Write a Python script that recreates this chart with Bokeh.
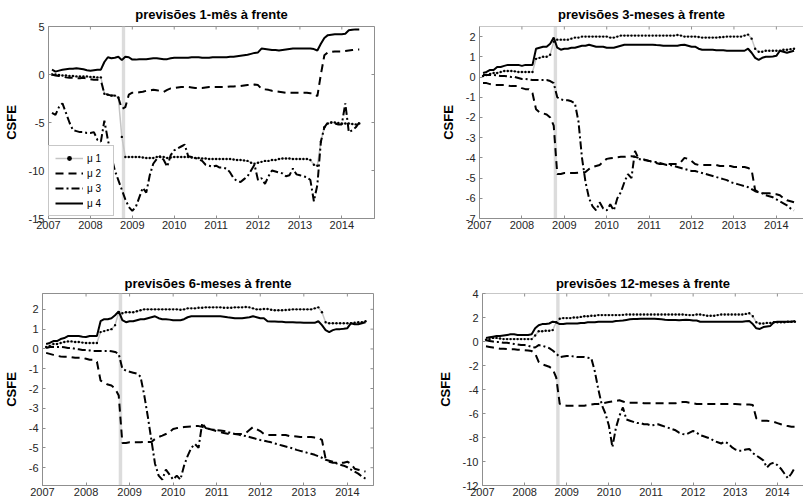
import math
from bokeh.plotting import figure
from bokeh.layouts import column, row
from bokeh.models import LinearAxis, FixedTicker, BoxAnnotation, Legend, LegendItem, Range1d, Span
from bokeh.embed import file_html
from bokeh.resources import INLINE

# ---------------- data ----------------
months = [2007 + m / 12 for m in range(1, 90)]  # Feb 2007 .. Jun 2014 (monthly)
x_ticks = [2007, 2008, 2009, 2010, 2011, 2012, 2013, 2014]
x_tick_labels = ["2007", "2008", "2009", "2010", "2011", "2012", "2013", "2014"]
crisis_start = 2008.75
crisis_end = 2008.83
series_labels = ["\u03bc 1", "\u03bc 2", "\u03bc 3", "\u03bc 4"]

# 1-month ahead
mu1_h1 = ([0.0, 0.0, -0.05, -0.1, -0.1, -0.15, -0.15, -0.2, -0.2, -0.2, -0.2, -0.25]
          + [-0.25, -0.3, -0.3, -2.0, -2.1, -2.2, -2.2, -2.4, -6.5, -8.6, -8.6, -8.6]
          + [-8.6, -8.6, -8.65, -8.7, -8.7, -8.7, -8.6, -8.6, -8.6, -8.7, -8.65, -8.6]
          + [-8.6, -8.6, -8.6, -8.6, -8.65, -8.7, -8.7, -8.75, -8.75, -8.8, -8.8, -8.8]
          + [-8.8, -8.8, -8.8, -8.8, -8.85, -8.9, -8.9, -8.95, -9.0, -9.2, -9.3, -9.2]
          + [-9.1, -9.0, -9.0, -8.9, -8.9, -8.8, -8.75, -8.75, -8.75, -8.8, -8.8, -8.8]
          + [-8.8, -8.8, -8.9, -9.4, -9.5, -7.0, -5.5, -5.1, -5.0, -5.0, -5.05, -5.1]
          + [-5.1, -5.1, -5.15, -5.2, -5.1])
mu2_h1 = ([0.0, -0.1, -0.15, -0.2, -0.3, -0.35, -0.35, -0.4, -0.4, -0.35, -0.4, -0.5]
          + [-0.55, -0.55, -0.6, -2.0, -2.1, -2.2, -2.2, -2.4, -3.6, -3.4, -2.1, -1.9]
          + [-1.9, -1.85, -1.8, -1.7, -1.65, -1.6, -1.65, -1.7, -1.8, -1.6, -1.45, -1.4]
          + [-1.35, -1.3, -1.3, -1.3, -1.35, -1.4, -1.4, -1.4, -1.35, -1.3, -1.3, -1.3]
          + [-1.3, -1.3, -1.3, -1.25, -1.25, -1.2, -1.2, -1.15, -1.1, -1.1, -1.05, -1.1]
          + [-1.5, -1.55, -1.6, -1.7, -1.75, -1.8, -1.85, -1.9, -1.9, -1.9, -1.9, -1.9]
          + [-1.9, -1.9, -1.95, -2.0, -2.25, 0.0, 2.0, 2.3, 2.35, 2.4, 2.4, 2.4]
          + [2.45, 2.5, 2.55, 2.6, 2.6])
mu3_h1 = ([-4.0, -4.2, -3.4, -3.0, -4.0, -5.0, -5.8, -5.9, -6.0, -6.0, -6.1, -6.1]
          + [-6.0, -6.8, -7.0, -4.8, -6.8, -8.5, -10.0, -11.0, -12.0, -13.0, -13.8, -14.2]
          + [-13.8, -12.8, -11.8, -12.3, -10.5, -9.3, -8.8, -8.5, -8.9, -9.6, -8.4, -7.9]
          + [-7.7, -7.5, -7.3, -8.5, -8.6, -8.7, -8.8, -9.0, -9.4, -9.5, -9.6, -9.5]
          + [-9.7, -9.7, -9.8, -10.2, -10.8, -11.1, -11.2, -10.9, -10.6, -10.0, -9.4, -11.0]
          + [-10.8, -11.4, -10.6, -10.0, -10.1, -10.2, -10.3, -10.6, -10.5, -9.8, -10.4, -10.5]
          + [-10.6, -10.7, -11.0, -13.2, -11.5, -7.0, -5.5, -5.0, -5.0, -5.1, -5.2, -5.2]
          + [-3.0, -6.0, -5.8, -5.5, -5.0])
mu4_h1 = ([0.5, 0.3, 0.4, 0.5, 0.55, 0.6, 0.6, 0.65, 0.6, 0.55, 0.45, 0.4]
          + [0.45, 0.5, 0.5, 1.3, 1.8, 1.7, 1.75, 1.85, 1.5, 1.85, 1.8, 1.55]
          + [1.55, 1.6, 1.6, 1.6, 1.65, 1.7, 1.7, 1.65, 1.6, 1.6, 1.7, 1.75]
          + [1.75, 1.75, 1.75, 1.75, 1.8, 1.8, 1.8, 1.75, 1.75, 1.75, 1.8, 1.8]
          + [1.8, 1.8, 1.8, 1.85, 1.85, 1.9, 1.95, 2.0, 2.05, 2.15, 2.25, 2.3]
          + [2.7, 2.65, 2.6, 2.55, 2.55, 2.5, 2.55, 2.6, 2.65, 2.7, 2.7, 2.7]
          + [2.7, 2.7, 2.7, 2.65, 2.5, 3.2, 3.8, 4.1, 4.15, 4.2, 4.2, 4.2]
          + [4.25, 4.6, 4.65, 4.7, 4.7])

# 3-months ahead
mu1_h3 = ([0.05, 0.1, 0.15, 0.2, 0.2, 0.25, 0.3, 0.3, 0.3, 0.28, 0.25, 0.25]
          + [0.25, 0.25, 0.25, 0.9, 0.95, 1.0, 1.0, 1.1, 1.75, 1.85, 1.85, 1.85]
          + [1.85, 1.9, 1.95, 1.95, 2.0, 2.0, 2.0, 2.0, 2.0, 2.0, 2.0, 2.0]
          + [1.95, 1.95, 2.0, 2.05, 2.05, 2.05, 2.05, 2.05, 2.05, 2.05, 2.05, 2.05]
          + [2.05, 2.05, 2.05, 2.05, 2.05, 2.05, 2.05, 2.08, 2.05, 2.0, 2.0, 2.0]
          + [2.0, 1.98, 1.95, 1.95, 1.95, 1.95, 1.95, 1.97, 1.98, 2.0, 2.0, 2.0]
          + [2.0, 2.0, 2.05, 2.1, 1.9, 1.4, 1.25, 1.25, 1.3, 1.3, 1.3, 1.3]
          + [1.3, 1.35, 1.35, 1.38, 1.4])
mu2_h3 = ([-0.3, -0.3, -0.35, -0.4, -0.4, -0.4, -0.4, -0.42, -0.45, -0.45, -0.45, -0.55]
          + [-0.6, -0.6, -0.8, -1.6, -1.75, -1.8, -1.85, -2.0, -2.4, -4.8, -4.8, -4.75]
          + [-4.75, -4.75, -4.75, -4.73, -4.72, -4.7, -4.55, -4.45, -4.4, -4.35, -4.2, -4.05]
          + [-4.02, -4.0, -3.97, -3.95, -3.95, -3.93, -3.92, -3.95, -4.0, -4.05, -4.1, -4.15]
          + [-4.2, -4.25, -4.3, -4.3, -4.3, -4.3, -4.3, -4.3, -4.2, -4.0, -4.05, -4.15]
          + [-4.3, -4.35, -4.35, -4.35, -4.35, -4.35, -4.35, -4.4, -4.4, -4.4, -4.4, -4.45]
          + [-4.45, -4.45, -4.45, -4.5, -4.6, -5.6, -5.7, -5.75, -5.75, -5.75, -5.8, -5.8]
          + [-5.85, -6.0, -6.1, -6.15, -6.2])
mu3_h3 = ([0.1, 0.1, 0.1, 0.1, 0.08, 0.05, 0.05, 0.03, 0.0, 0.0, -0.05, -0.1]
          + [-0.1, -0.12, -0.15, -0.15, -0.15, -0.15, -0.15, -0.2, -0.3, -1.0, -1.1, -1.15]
          + [-1.15, -1.2, -1.3, -2.2, -4.0, -5.2, -6.0, -6.4, -6.6, -6.2, -6.5, -6.6]
          + [-6.3, -6.6, -6.0, -5.7, -5.2, -4.8, -5.0, -3.65, -4.05, -4.1, -4.12, -4.15]
          + [-4.2, -4.2, -4.25, -4.3, -4.35, -4.35, -4.4, -4.45, -4.5, -4.55, -4.6, -4.65]
          + [-4.65, -4.7, -4.75, -4.8, -4.85, -4.9, -4.95, -5.0, -5.05, -5.1, -5.2, -5.25]
          + [-5.3, -5.35, -5.4, -5.45, -5.55, -5.65, -5.7, -5.75, -5.85, -5.9, -5.95, -6.05]
          + [-6.15, -6.25, -6.35, -6.5, -6.6])
mu4_h3 = ([0.2, 0.25, 0.35, 0.35, 0.5, 0.5, 0.55, 0.6, 0.6, 0.6, 0.6, 0.55]
          + [0.6, 0.6, 0.6, 1.4, 1.45, 1.5, 1.5, 1.65, 1.95, 1.45, 1.35, 1.4]
          + [1.4, 1.45, 1.45, 1.5, 1.55, 1.55, 1.6, 1.55, 1.5, 1.5, 1.5, 1.45]
          + [1.45, 1.45, 1.5, 1.55, 1.6, 1.6, 1.6, 1.6, 1.6, 1.6, 1.6, 1.6]
          + [1.6, 1.58, 1.57, 1.55, 1.55, 1.55, 1.55, 1.55, 1.58, 1.6, 1.55, 1.5]
          + [1.5, 1.4, 1.35, 1.35, 1.35, 1.35, 1.33, 1.33, 1.32, 1.3, 1.3, 1.3]
          + [1.3, 1.3, 1.3, 1.4, 1.2, 0.95, 0.85, 0.95, 1.0, 1.0, 1.02, 1.05]
          + [1.3, 1.25, 1.2, 1.25, 1.3])

# 6-months ahead
mu1_h6 = ([0.1, 0.15, 0.25, 0.25, 0.3, 0.35, 0.38, 0.38, 0.35, 0.35, 0.32, 0.3]
          + [0.3, 0.3, 0.3, 0.85, 0.9, 0.95, 1.0, 1.2, 1.85, 1.8, 1.85, 1.85]
          + [1.85, 1.9, 1.95, 2.0, 2.0, 2.0, 2.0, 2.0, 2.0, 2.0, 2.0, 2.0]
          + [2.0, 1.98, 2.0, 2.05, 2.05, 2.05, 2.08, 2.08, 2.1, 2.1, 2.1, 2.1]
          + [2.1, 2.08, 2.08, 2.08, 2.1, 2.1, 2.1, 2.12, 2.1, 2.05, 2.0, 2.0]
          + [2.02, 2.02, 1.98, 1.95, 1.95, 1.95, 1.97, 1.98, 2.0, 2.0, 2.0, 2.0]
          + [2.0, 2.0, 2.05, 2.1, 1.85, 1.35, 1.3, 1.3, 1.3, 1.3, 1.3, 1.3]
          + [1.3, 1.32, 1.35, 1.35, 1.4])
mu2_h6 = ([-0.2, -0.25, -0.3, -0.35, -0.38, -0.4, -0.4, -0.42, -0.45, -0.45, -0.45, -0.5]
          + [-0.55, -0.55, -0.65, -1.6, -1.7, -1.8, -1.85, -2.0, -2.35, -4.75, -4.75, -4.72]
          + [-4.72, -4.72, -4.72, -4.7, -4.7, -4.7, -4.55, -4.45, -4.38, -4.3, -4.2, -4.05]
          + [-4.0, -3.97, -3.95, -3.93, -3.92, -3.9, -3.9, -3.93, -4.0, -4.05, -4.1, -4.15]
          + [-4.2, -4.25, -4.28, -4.3, -4.3, -4.3, -4.3, -4.25, -4.1, -3.95, -4.05, -4.15]
          + [-4.3, -4.35, -4.35, -4.35, -4.35, -4.35, -4.35, -4.4, -4.4, -4.42, -4.45, -4.45]
          + [-4.45, -4.45, -4.48, -4.5, -4.6, -5.55, -5.7, -5.75, -5.75, -5.75, -5.75, -5.7]
          + [-5.8, -6.05, -6.1, -6.15, -6.2])
mu3_h6 = ([0.05, 0.1, 0.1, 0.1, 0.1, 0.08, 0.05, 0.05, 0.0, -0.02, -0.05, -0.05]
          + [-0.08, -0.1, -0.1, -0.1, -0.1, -0.1, -0.12, -0.15, -0.25, -1.0, -1.1, -1.15]
          + [-1.2, -1.25, -1.4, -2.3, -3.4, -4.6, -5.8, -6.4, -6.6, -6.1, -6.35, -6.6]
          + [-6.4, -6.6, -5.9, -5.4, -5.0, -4.8, -5.0, -3.75, -4.0, -4.05, -4.08, -4.1]
          + [-4.12, -4.15, -4.2, -4.25, -4.3, -4.33, -4.37, -4.4, -4.45, -4.5, -4.55, -4.6]
          + [-4.63, -4.68, -4.72, -4.78, -4.83, -4.88, -4.93, -4.98, -5.03, -5.1, -5.15, -5.2]
          + [-5.25, -5.3, -5.35, -5.42, -5.5, -5.6, -5.65, -5.7, -5.78, -5.85, -5.9, -5.98]
          + [-6.1, -6.2, -6.3, -6.45, -6.55])
mu4_h6 = ([0.25, 0.3, 0.4, 0.4, 0.5, 0.55, 0.65, 0.65, 0.65, 0.65, 0.62, 0.6]
          + [0.65, 0.65, 0.65, 1.4, 1.5, 1.5, 1.55, 1.7, 1.9, 1.45, 1.35, 1.4]
          + [1.4, 1.45, 1.5, 1.5, 1.55, 1.6, 1.65, 1.55, 1.5, 1.5, 1.48, 1.45]
          + [1.45, 1.45, 1.5, 1.6, 1.65, 1.65, 1.65, 1.65, 1.65, 1.65, 1.65, 1.65]
          + [1.65, 1.63, 1.6, 1.58, 1.55, 1.55, 1.55, 1.58, 1.6, 1.65, 1.6, 1.55]
          + [1.55, 1.4, 1.38, 1.38, 1.37, 1.37, 1.35, 1.35, 1.35, 1.33, 1.33, 1.32]
          + [1.32, 1.32, 1.32, 1.4, 1.2, 0.95, 0.85, 0.95, 1.0, 1.0, 1.02, 1.05]
          + [1.3, 1.25, 1.25, 1.3, 1.35])

# 12-months ahead
mu1_h12 = ([0.15, 0.2, 0.3, 0.3, 0.25, 0.2, 0.2, 0.2, 0.2, 0.2, 0.2, 0.2]
           + [0.2, 0.2, 0.5, 0.85, 0.85, 0.9, 0.9, 0.95, 1.6, 1.9, 1.95, 1.95]
           + [1.95, 2.0, 2.0, 2.05, 2.1, 2.1, 2.15, 2.15, 2.2, 2.2, 2.2, 2.2]
           + [2.2, 2.2, 2.2, 2.22, 2.25, 2.25, 2.25, 2.25, 2.25, 2.25, 2.25, 2.25]
           + [2.25, 2.25, 2.25, 2.25, 2.25, 2.25, 2.25, 2.25, 2.25, 2.22, 2.2, 2.2]
           + [2.25, 2.25, 2.2, 2.15, 2.15, 2.15, 2.2, 2.25, 2.25, 2.25, 2.25, 2.25]
           + [2.25, 2.25, 2.3, 2.35, 2.1, 1.6, 1.5, 1.5, 1.55, 1.55, 1.6, 1.6]
           + [1.6, 1.6, 1.65, 1.65, 1.65])
mu2_h12 = ([-0.4, -0.45, -0.5, -0.55, -0.6, -0.6, -0.62, -0.65, -0.65, -0.68, -0.7, -0.72]
           + [-0.75, -0.8, -1.0, -1.7, -1.9, -2.0, -2.1, -2.3, -3.0, -5.2, -5.3, -5.35]
           + [-5.35, -5.35, -5.35, -5.35, -5.35, -5.3, -5.25, -5.2, -5.2, -5.15, -5.1, -5.05]
           + [-5.0, -4.95, -4.9, -5.0, -5.1, -5.1, -5.1, -5.1, -5.1, -5.15, -5.15, -5.15]
           + [-5.15, -5.15, -5.15, -5.15, -5.15, -5.15, -5.15, -5.1, -5.05, -5.05, -5.1, -5.15]
           + [-5.2, -5.2, -5.2, -5.2, -5.2, -5.2, -5.2, -5.2, -5.2, -5.2, -5.2, -5.2]
           + [-5.22, -5.25, -5.25, -5.25, -5.3, -6.4, -6.6, -6.6, -6.6, -6.65, -6.7, -6.8]
           + [-6.9, -7.0, -7.05, -7.1, -7.1])
mu3_h12 = ([0.1, 0.05, 0.0, -0.05, -0.05, -0.1, -0.1, -0.15, -0.2, -0.25, -0.3, -0.3]
           + [-0.35, -0.45, -0.5, -0.3, -0.35, -0.45, -0.55, -0.75, -1.0, -1.3, -1.25, -1.2]
           + [-1.2, -1.25, -1.3, -1.3, -1.3, -1.35, -1.4, -2.5, -4.0, -5.3, -6.0, -7.0]
           + [-8.8, -7.2, -6.2, -5.5, -6.5, -6.6, -6.7, -6.8, -6.8, -6.9, -6.9, -7.0]
           + [-6.95, -6.9, -7.0, -7.1, -7.2, -7.3, -7.4, -7.6, -7.7, -7.75, -7.6, -7.45]
           + [-7.6, -7.8, -7.9, -8.0, -8.1, -8.3, -8.4, -8.5, -8.35, -8.5, -8.8, -9.0]
           + [-9.1, -9.1, -9.0, -8.95, -9.3, -9.5, -9.7, -9.9, -10.5, -10.2, -10.1, -10.3]
           + [-10.6, -11.0, -11.4, -11.0, -10.5])
mu4_h12 = ([0.3, 0.35, 0.4, 0.45, 0.45, 0.5, 0.55, 0.6, 0.6, 0.55, 0.55, 0.55]
           + [0.55, 0.6, 1.1, 1.35, 1.45, 1.45, 1.5, 1.65, 1.6, 1.45, 1.45, 1.5]
           + [1.5, 1.5, 1.5, 1.55, 1.55, 1.6, 1.6, 1.6, 1.65, 1.65, 1.65, 1.65]
           + [1.65, 1.7, 1.72, 1.75, 1.8, 1.85, 1.88, 1.88, 1.9, 1.9, 1.9, 1.9]
           + [1.9, 1.88, 1.85, 1.82, 1.8, 1.8, 1.8, 1.78, 1.8, 1.82, 1.8, 1.75]
           + [1.75, 1.65, 1.65, 1.65, 1.65, 1.65, 1.65, 1.65, 1.65, 1.65, 1.65, 1.65]
           + [1.65, 1.65, 1.68, 1.7, 1.45, 1.1, 1.05, 1.2, 1.25, 1.3, 1.6, 1.65]
           + [1.65, 1.65, 1.65, 1.65, 1.7])

yticks_h1 = [-15, -10, -5, 0, 5]
yticks_h3 = [-7, -6, -5, -4, -3, -2, -1, 0, 1, 2]
yticks_h6 = [-6, -5, -4, -3, -2, -1, 0, 1, 2]
yticks_h12 = [-12, -10, -8, -6, -4, -2, 0, 2, 4]

# ---------------- styling ----------------
FONT = "Liberation Sans"
AXC = "#8f8f8f"
LBL = "#262626"


def style_axis(ax, ticks, standoff):
    ax.ticker = FixedTicker(ticks=ticks)
    ax.axis_line_color = AXC
    ax.axis_line_width = 1
    ax.major_tick_line_color = AXC
    ax.major_tick_in = 3
    ax.major_tick_out = 0
    ax.minor_tick_line_color = None
    ax.major_label_text_font = FONT
    ax.major_label_text_color = LBL
    ax.major_label_text_font_size = "11px"
    ax.major_label_standoff = standoff


def panel(title, mus, xr, yr, yticks, w, h, bl, br, bt, bb, right_box, with_legend, title_gap):
    p = figure(width=w, height=h, output_backend="svg", toolbar_location=None,
               x_range=Range1d(*xr), y_range=Range1d(*yr),
               x_axis_location=None, y_axis_location=None,
               min_border_left=bl, min_border_right=br,
               min_border_top=bt, min_border_bottom=bb)
    p.grid.visible = False
    p.background_fill_color = "white"
    p.border_fill_color = "white"

    p.title.text = title
    p.title.align = "center"
    p.title.text_font = FONT
    p.title.text_font_size = "13px"
    p.title.text_font_style = "bold"
    p.title.text_color = "black"
    p.title.standoff = title_gap

    xb = LinearAxis(major_label_overrides=dict(zip(x_ticks, x_tick_labels)))
    style_axis(xb, x_ticks, 2)
    p.add_layout(xb, "below")

    yl = LinearAxis(axis_label="CSFE",
                    major_label_overrides={t: str(t) for t in yticks})
    style_axis(yl, yticks, 4)
    yl.axis_label_text_font = FONT
    yl.axis_label_text_font_size = "13px"
    yl.axis_label_text_font_style = "bold"
    yl.axis_label_text_color = "black"
    yl.axis_label_standoff = 7
    p.add_layout(yl, "left")

    band = BoxAnnotation(left=crisis_start, right=crisis_end, fill_color="#dcdcdc",
                         fill_alpha=1.0, line_color=None, level="underlay")
    p.add_layout(band)

    # box: full outline for the left panels; top edge only for the (cropped) right panels
    if right_box:
        p.outline_line_color = AXC
        p.outline_line_width = 1
        p.outline_line_alpha = 1.0
        p.scatter([xr[1]] * len(yticks), yticks, marker="dash", size=6,
                  line_color=AXC, line_width=1)
    else:
        p.outline_line_color = None
        p.add_layout(Span(location=yr[1], dimension="width", line_color=AXC, line_width=1))
    p.scatter(x_ticks, [yr[1]] * len(x_ticks), marker="dash", angle=math.pi / 2, size=6,
              line_color=AXC, line_width=1)

    r1 = p.line(months, mus[0], line_color="#c4c4c4", line_width=1.5)
    r1d = p.scatter(months, mus[0], size=2.4, marker="circle",
                    fill_color="black", line_color="black", line_width=0)
    r2 = p.line(months, mus[1], line_color="black", line_width=2, line_dash="8 5")
    r3 = p.line(months, mus[2], line_color="black", line_width=2, line_dash="8 3 2 3")
    r4 = p.line(months, mus[3], line_color="black", line_width=2)

    if with_legend:
        items = [LegendItem(label=series_labels[0], renderers=[r1, r1d]),
                 LegendItem(label=series_labels[1], renderers=[r2]),
                 LegendItem(label=series_labels[2], renderers=[r3]),
                 LegendItem(label=series_labels[3], renderers=[r4])]
        lg = Legend(items=items, location=(0, 2))
        lg.margin = 0
        lg.padding = 6
        lg.spacing = 3
        lg.glyph_width = 28
        lg.glyph_height = 12
        lg.label_height = 12
        lg.label_standoff = 4
        lg.label_text_font = FONT
        lg.label_text_font_size = "10px"
        lg.label_text_color = "black"
        lg.border_line_color = AXC
        lg.border_line_width = 1
        lg.background_fill_color = "white"
        lg.background_fill_alpha = 1.0
        p.add_layout(lg)
    return p


p1 = panel("previs\u00f5es 1-m\u00eas \u00e0 frente", [mu1_h1, mu2_h1, mu3_h1, mu4_h1],
           (2007, 2014.78), (-15, 5), yticks_h1,
           408, 248, 46, 34, 26, 30, True, True, 9)
p2 = panel("previs\u00f5es 3-meses \u00e0 frente", [mu1_h3, mu2_h3, mu3_h3, mu4_h3],
           (2007, 2014.64), (-7, 2.5), yticks_h3,
           395, 248, 71, 0, 26, 30, False, False, 9)
p3 = panel("previs\u00f5es 6-meses \u00e0 frente", [mu1_h6, mu2_h6, mu3_h6, mu4_h6],
           (2007, 2014.6), (-6.9, 2.8), yticks_h6,
           408, 252, 40, 35, 45, 15, True, False, 6)
p4 = panel("previs\u00f5es 12-meses \u00e0 frente", [mu1_h12, mu2_h12, mu3_h12, mu4_h12],
           (2007, 2014.62), (-12, 4), yticks_h12,
           395, 252, 74, 0, 45, 15, False, False, 6)

layout = column(row(p1, p2), row(p3, p4))
open("out.html", "w").write(file_html(layout, INLINE))
